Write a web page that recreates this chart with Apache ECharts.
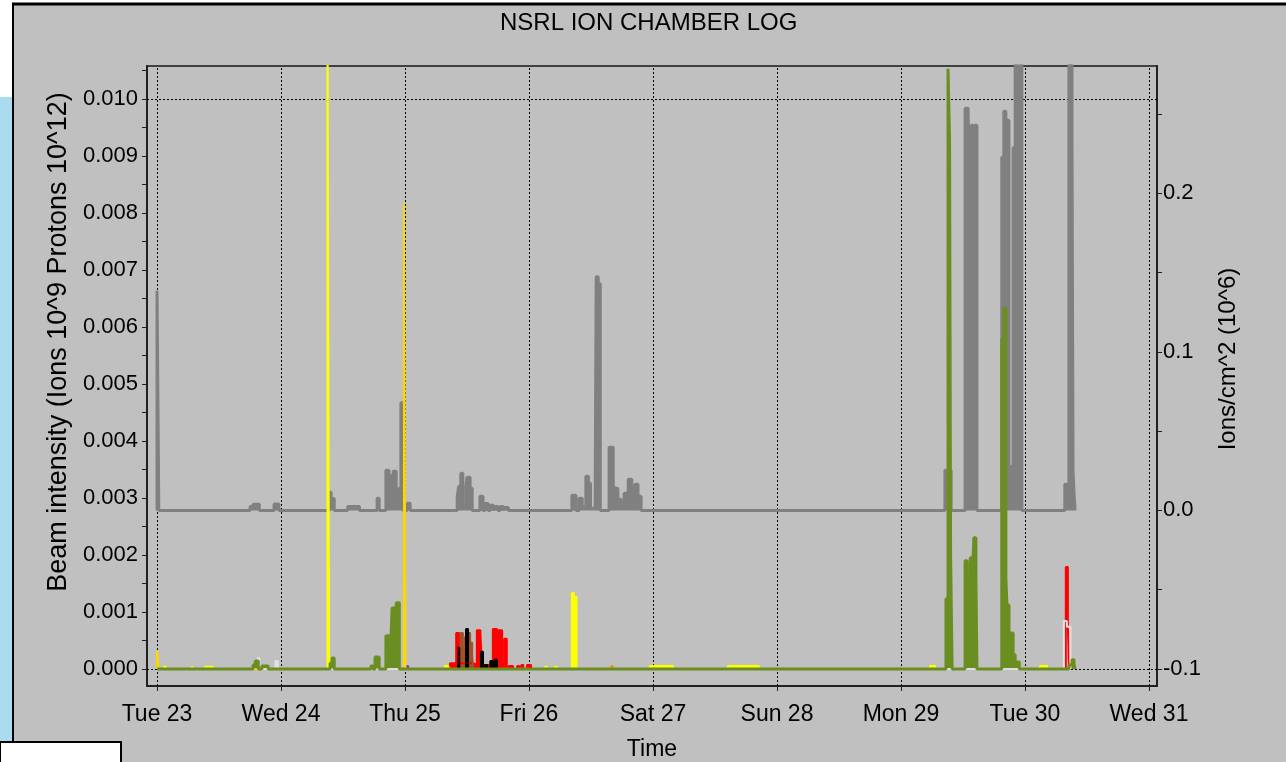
<!DOCTYPE html>
<html>
<head>
    <meta charset="utf-8">
    <title>NSRL Ion Chamber Log</title>
    <script src="https://cdn.jsdelivr.net/npm/echarts@6/dist/echarts.min.js"></script>
    <style>
        html, body { margin: 0; padding: 0; background: #fff; }
    </style>
</head>
<body>
    <div id="main" style="width: 1286px;height:762px;"></div>
    <script type="text/javascript">
        // time is in hours from Tue 23 00:00
        var dayLabels = ['Tue 23', 'Wed 24', 'Thu 25', 'Fri 26', 'Sat 27', 'Sun 28', 'Mon 29', 'Tue 30', 'Wed 31'];
        var dayTicks = [0, 24, 48, 72, 96, 120, 144, 168, 192];
        var leftLabels = [0, 0.001, 0.002, 0.003, 0.004, 0.005, 0.006, 0.007, 0.008, 0.009, 0.010];
        var leftTicks = [0, 0.0005, 0.001, 0.0015, 0.002, 0.0025, 0.003, 0.0035, 0.004, 0.0045, 0.005,
            0.0055, 0.006, 0.0065, 0.007, 0.0075, 0.008, 0.0085, 0.009, 0.0095, 0.010, 0.0105];
        var rightLabels = [-0.1, 0, 0.1, 0.2];
        var rightTicks = [-0.1, -0.05, 0, 0.05, 0.1, 0.15, 0.2, 0.25];

        // ions/cm^2 (right axis)
        var ionsGray = [[0, 0], [0, 0.1386], [0.35, 0], [18.0, 0.0025], [18.6, 0.0038], [19.8, 0], [22.65, 0.004], [23.6, 0],
            [33.3, 0.0114], [33.7, 0.0075], [34.3, 0], [36.9, 0.0025], [39.2, 0], [42.6, 0.0076], [43.0, 0],
            [44.3, 0.0253], [44.9, 0.022], [45.3, 0.012], [45.7, 0.0247], [46.3, 0.007], [46.8, 0.014], [47.2, 0.068], [47.6, 0],
            [48.4, 0.0045], [49.0, 0], [58.1, 0.0089], [58.4, 0.0152], [58.8, 0.0234], [59.2, 0.0025], [59.8, 0.0152],
            [60.0, 0.0209], [60.6, 0.0139], [61.0, 0], [62.5, 0.0089], [63.1, 0], [63.5, 0.0044], [64.1, 0], [64.5, 0.0032],
            [65.1, 0], [65.4, 0.0025], [66.0, 0], [66.4, 0.0025], [67.0, 0], [67.2, 0.0019], [68.0, 0],
            [80.3, 0.0095], [81.1, 0], [81.7, 0.0076], [82.3, 0.0025], [83.0, 0.0215], [83.5, 0.0171], [83.9, 0.0013],
            [84.8, 0.0025], [85.0, 0.1475], [85.4, 0.143], [85.8, 0], [87.5, 0.0399], [88.3, 0.0158], [88.6, 0.0139],
            [89.2, 0.007], [89.8, 0.0038], [90.4, 0.0108], [91.2, 0.0196], [91.9, 0.0139], [92.5, 0.0165], [93.1, 0.0089], [93.7, 0],
            [152.5, 0.0253], [153.7, 0], [156.4, 0.2538], [157.0, 0.2462], [157.3, 0.2285], [157.6, 0.243], [158.0, 0.2171],
            [158.3, 0.243], [158.7, 0], [163.5, 0.2228], [163.9, 0.2519], [164.3, 0.2462], [164.9, 0.0278], [165.7, 0.229],
            [166.1, 0.30], [167.4, 0], [175.7, 0.0165], [176.5, 0.30], [177.1, 0.2367], [177.3, 0.0247], [177.5, 0.0101], [177.7, 0]];

        // beam intensity (left axis)
        var beamGreen = [[0, 0], [18.6, 0.00007], [19.0, 0.00014], [19.6, 0], [20.3, 0.00005], [21.5, 0],
            [33.5, 0.0001], [33.9, 0.00019], [34.3, 0], [41.4, 0.00005], [41.8, 0], [42.2, 0.00021], [43.0, 0],
            [44.3, 0.00058], [45.3, 0.0006], [45.5, 0.00107], [46.3, 0.00116], [46.9, 0],
            [152.7, 0.00123], [153.1, 0.01053], [153.4, 0.00928], [153.6, 0.00198], [153.9, 0],
            [156.4, 0.0019], [156.8, 0.00114], [157.0, 0.00163], [157.4, 0.00195], [157.8, 0.00153], [158.1, 0.0023],
            [158.5, 0.00163], [158.7, 0], [163.5, 0.00579], [163.9, 0.00633], [164.3, 0.0016], [164.5, 0.00112],
            [164.9, 0.00063], [165.7, 0.00025], [166.1, 0.00012], [166.9, 0],
            [176.5, 0.00007], [177.1, 0.00016], [177.5, 0.00007], [177.7, 0]];
        var beamYellow = [[1.2, 0.00004], [1.7, 0], [6.7, 0.00004], [7.0, 0], [9.3, 0.00004], [10.8, 0],
            [33.0, 0.012], [33.3, 0], [55.7, 0.00005], [56.4, 0], [75.1, 0.00004], [75.5, 0], [77.0, 0.00004], [77.4, 0],
            [80.3, 0.00133], [80.7, 0.00126], [81.2, 0], [95.4, 0.00005], [99.9, 0], [110.5, 0.00005], [116.5, 0],
            [149.6, 0.00005], [150.6, 0], [170.9, 0.00005], [172.3, 0]];
        var beamGold = [[0, 0], [0, 0.00032], [0.3, 0], [47.8, 0.00818], [48.1, 0]];
        var beamRed = [[55.9, 0.00005], [56.7, 0.0001], [57.9, 0.00063], [58.4, 0.0001], [61.2, 0.00007], [61.9, 0.00068],
            [62.6, 0.0006], [62.9, 0.00007], [65.0, 0.0007], [65.8, 0.00007], [66.0, 0.00068], [66.8, 0.00007],
            [67.2, 0.00053], [67.7, 0], [68.1, 0.00005], [68.9, 0], [69.7, 0.00005], [70.1, 0], [70.5, 0.00007], [70.9, 0],
            [71.6, 0.00007], [72.4, 0], [175.9, 0.00179], [176.3, 0.00075], [176.5, 0]];
        var beamBrown = [[58.5, 0.00063], [59.2, 0.00039], [59.6, 0.00056], [60.0, 0.00063], [60.6, 0.00046], [61.0, 0.00023], [61.2, 0]];
        var beamBlack = [[58.1, 0.00037], [58.5, 0], [59.8, 0.0007], [60.2, 0], [62.7, 0.0003], [63.1, 0],
            [63.5, 0.00007], [63.9, 0], [64.5, 0.00014], [64.9, 0], [65.3, 0.00016], [65.8, 0]];
        var beamLightGray = [[19.4, 0.00019], [19.8, 0], [22.9, 0.00014], [23.4, 0], [175.5, 0.00084], [176.1, 0.00074], [176.8, 0]];
        var beamOrange = [[87.8, 0.00005], [88.2, 0]];
        var beamPurple = [[48.2, 0.00005], [48.6, 0]];

        var font = 'Liberation Sans';

        function stepSeries(data, color, axis, width) {
            return {
                type: 'line',
                data: data,
                yAxisIndex: axis,
                step: 'end',
                symbol: 'none',
                silent: true,
                lineStyle: { color: color, width: width },
                areaStyle: { color: color, opacity: 1 },
                itemStyle: { color: color },
                z: 2
            };
        }

        var myChart = echarts.init(document.getElementById('main'));

        var gridLines = [];
        for (var i = 0; i < leftLabels.length; i++) {
            gridLines.push({ yAxis: leftLabels[i] });
        }
        for (var i = 0; i < dayTicks.length; i++) {
            gridLines.push({ xAxis: dayTicks[i] });
        }

        var series = [
            stepSeries(ionsGray, '#808080', 1, 3),
            stepSeries(beamRed, '#ff0000', 0, 2),
            stepSeries(beamBrown, '#a0522d', 0, 2),
            stepSeries(beamBlack, '#000000', 0, 2),
            stepSeries(beamOrange, '#ff8c00', 0, 2),
            stepSeries(beamPurple, '#a020f0', 0, 2),
            stepSeries(beamYellow, '#ffff00', 0, 2),
            stepSeries(beamGold, '#ffd700', 0, 2),
            stepSeries(beamLightGray, '#e0e0e0', 0, 2),
            stepSeries(beamGreen, '#6b8e23', 0, 3)
        ];
        series[series.length - 1].markLine = {
            z: 1,
            silent: true,
            symbol: ['none', 'none'],
            label: { show: false },
            lineStyle: { color: '#000', type: [2, 2], width: 1 },
            emphasis: { disabled: true },
            data: gridLines
        };

        var option = {
            backgroundColor: '#c0c0c0',
            animation: false,
            textStyle: { fontFamily: font },
            title: {
                text: 'NSRL ION CHAMBER LOG',
                left: 500,
                top: 11,
                padding: 0,
                textStyle: { fontFamily: font, fontSize: 24, fontWeight: 'normal', color: '#000' }
            },
            grid: {
                left: 147, right: 129, top: 66, bottom: 76,
                outerBoundsMode: 'none',
                show: true, borderColor: '#404040', borderWidth: 2
            },
            xAxis: {
                type: 'value',
                min: -1.94,
                max: 193.55,
                name: 'Time',
                nameLocation: 'middle',
                nameGap: 52,
                nameTextStyle: { fontFamily: font, fontSize: 23, color: '#000' },
                axisLine: { show: true, onZero: false, lineStyle: { color: '#202020', width: 2 } },
                axisTick: { show: true, customValues: dayTicks, length: 5, lineStyle: { color: '#202020' } },
                axisLabel: {
                    customValues: dayTicks, fontSize: 23, color: '#000', margin: 17,
                    formatter: function (v) { return dayLabels[Math.round(v / 24)]; }
                },
                splitLine: { show: false }
            },
            yAxis: [
                {
                    type: 'value',
                    position: 'left',
                    min: -0.0003,
                    max: 0.01058,
                    name: 'Beam intensity (Ions 10^9 Protons 10^12)',
                    nameLocation: 'middle',
                    nameRotate: 90,
                    nameGap: 74,
                    nameTextStyle: { fontFamily: font, fontSize: 27, color: '#000', padding: [0, 0, 0, 68] },
                    axisLine: { show: true, onZero: false, lineStyle: { color: '#202020', width: 2 } },
                    axisTick: { show: true, customValues: leftTicks, length: 5, lineStyle: { color: '#202020' } },
                    axisLabel: {
                        customValues: leftLabels, fontSize: 22, color: '#000', margin: 9,
                        formatter: function (v) { return v.toFixed(3); }
                    },
                    splitLine: { show: false }
                },
                {
                    type: 'value',
                    position: 'right',
                    min: -0.1108,
                    max: 0.2804,
                    name: 'Ions/cm^2 (10^6)',
                    nameLocation: 'middle',
                    nameRotate: 90,
                    nameGap: 59,
                    nameTextStyle: { fontFamily: font, fontSize: 24, color: '#000', padding: [0, 0, 0, 34] },
                    axisLine: { show: true, onZero: false, lineStyle: { color: '#202020', width: 2 } },
                    axisTick: { show: true, customValues: rightTicks, length: 5, lineStyle: { color: '#202020' } },
                    axisLabel: {
                        customValues: rightLabels, fontSize: 22, color: '#000', margin: 6,
                        formatter: function (v) { return v.toFixed(1); }
                    },
                    splitLine: { show: false }
                }
            ],
            graphic: [
                { type: 'rect', z: 100, silent: true, shape: { x: 0, y: 0, width: 1286, height: 3 }, style: { fill: '#fff' } },
                { type: 'rect', z: 100, silent: true, shape: { x: 0, y: 0, width: 12, height: 97 }, style: { fill: '#fff' } },
                { type: 'rect', z: 100, silent: true, shape: { x: 0, y: 97, width: 12, height: 645 }, style: { fill: '#aadcf0' } },
                { type: 'line', z: 101, silent: true, shape: { x1: 12, y1: 4, x2: 1286, y2: 4 }, style: { stroke: '#000', lineWidth: 3 } },
                { type: 'line', z: 101, silent: true, shape: { x1: 13, y1: 3, x2: 13, y2: 742 }, style: { stroke: '#000', lineWidth: 2 } },
                { type: 'rect', z: 102, silent: true, shape: { x: 0, y: 742, width: 121, height: 22 }, style: { fill: '#fff', stroke: '#000', lineWidth: 2 } }
            ],
            series: series
        };
        myChart.setOption(option);
    </script>
</body>
</html>
